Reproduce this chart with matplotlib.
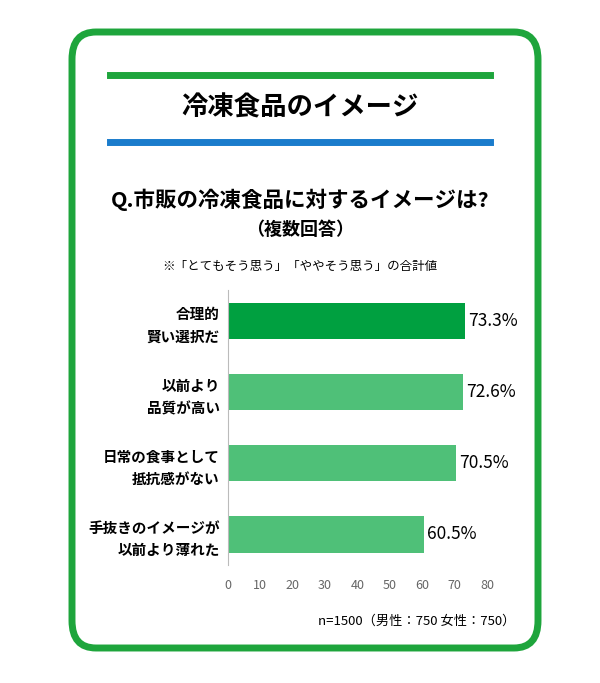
import matplotlib.pyplot as plt
from matplotlib.patches import FancyBboxPatch
import matplotlib.lines as mlines

plt.rcParams['font.family'] = ['Noto Sans CJK JP', 'DejaVu Sans']

categories = ['合理的\n賢い選択だ', '以前より\n品質が高い', '日常の食事として\n抵抗感がない', '手抜きのイメージが\n以前より薄れた']
values = [73.3, 72.6, 70.5, 60.5]
bar_colors = ['#00a040', '#4fc078', '#4fc078', '#4fc078']
ticks = [0, 10, 20, 30, 40, 50, 60, 70, 80]

W, H = 600, 683
fig = plt.figure(figsize=(W / 100, H / 100), dpi=100)

def fx(x): return x / W
def fy(y): return 1 - y / H

# rounded green frame
frame = FancyBboxPatch((fx(72), fy(648)), fx(466) , (648 - 32) / H,
                       boxstyle='round,pad=0,rounding_size=0.04',
                       transform=fig.transFigure, fill=False,
                       edgecolor='#1ea53c', linewidth=5)
fig.patches.append(frame)

fig.lines.append(mlines.Line2D([fx(110), fx(490)], [fy(75), fy(75)], color='#1ea53c', lw=5, transform=fig.transFigure))
fig.lines.append(mlines.Line2D([fx(110), fx(490)], [fy(142), fy(142)], color='#1a7ccc', lw=5, transform=fig.transFigure))

fig.text(0.5, fy(108), '冷凍食品のイメージ', ha='center', va='center', fontsize=19, fontweight='bold')
fig.text(0.5, fy(200), 'Q.市販の冷凍食品に対するイメージは?', ha='center', va='center', fontsize=15.5, fontweight='bold')
fig.text(0.5, fy(229), '（複数回答）', ha='center', va='center', fontsize=13, fontweight='bold')
fig.text(0.5, fy(266), '※「とてもそう思う」「ややそう思う」の合計値', ha='center', va='center', fontsize=9)
fig.text(fx(515), fy(621), 'n=1500（男性：750 女性：750）', ha='right', va='center', fontsize=9.5)

ax = fig.add_axes([fx(228), fy(565), (487 - 228) / W, (565 - 290) / H])
y = range(len(values))
ax.barh(y, values, height=0.52, color=bar_colors)
ax.invert_yaxis()
ax.set_xlim(0, 80)
ax.set_xticks(ticks)
ax.set_yticks(list(y))
ax.set_yticklabels(categories, fontsize=10.5, fontweight='bold', linespacing=1.5)
for i, v in enumerate(values):
    ax.text(v + 1, i, f'{v}%', va='center', ha='left', fontsize=12.5)
for s in ['top', 'right', 'bottom']:
    ax.spines[s].set_visible(False)
ax.spines['left'].set_color('#bbbbbb')
ax.tick_params(axis='x', length=0, labelsize=9, colors='#666666', pad=10)
ax.tick_params(axis='y', length=0, pad=6)

fig.savefig('out.png', dpi=100)
